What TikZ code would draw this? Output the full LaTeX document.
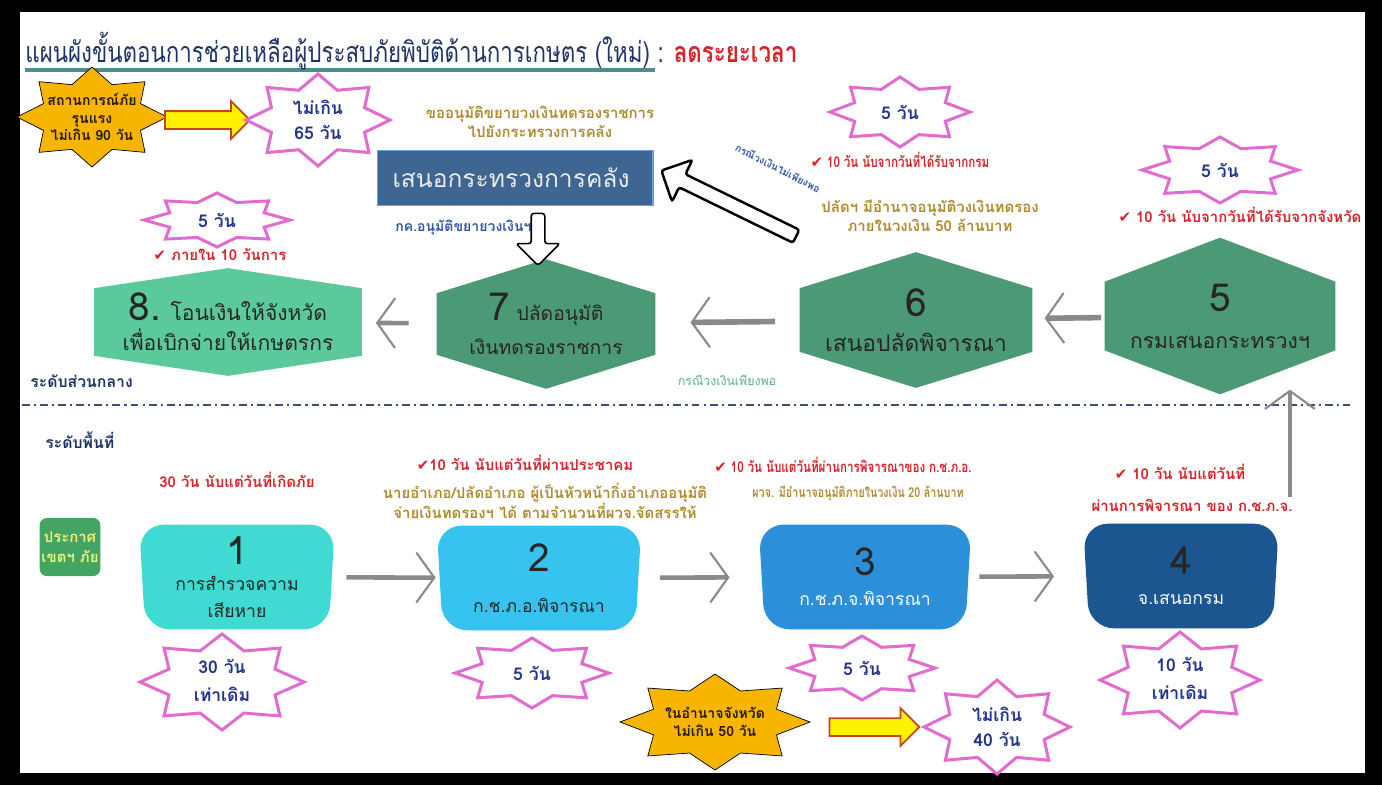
\documentclass[tikz,border=0pt]{standalone}
\usepackage{fontspec}
\setmainfont{Loma}[Script=Thai]
\newfontfamily\narrowthai{Loma}[Script=Thai, FakeStretch=0.78]
\newfontfamily\symfont{DejaVu Sans}
\usetikzlibrary{shapes.arrows,arrows.meta,positioning,calc,backgrounds}

\definecolor{navy}{HTML}{1F3466}
\definecolor{titlered}{HTML}{D8232A}
\definecolor{gold}{HTML}{B08A2E}
\definecolor{starpink}{HTML}{E26BD0}
\definecolor{starblue}{HTML}{23348C}
\definecolor{sunorange}{HTML}{F7B500}
\definecolor{hexlight}{HTML}{5CC99B}
\definecolor{hexdark}{HTML}{4C9A75}
\definecolor{boxA}{HTML}{3FDAD2}
\definecolor{boxB}{HTML}{36C3EF}
\definecolor{boxC}{HTML}{2C8FD9}
\definecolor{boxD}{HTML}{1B5691}
\definecolor{mof}{HTML}{3F6592}
\definecolor{mofedge}{HTML}{6A9FD8}
\definecolor{flowgray}{HTML}{8A8A8A}
\definecolor{noteblue}{HTML}{3257A3}
\definecolor{notegreen}{HTML}{5AAE8C}
\definecolor{linenavy}{HTML}{3C5080}
\definecolor{underteal}{HTML}{4E8C8E}
\definecolor{arrowedge}{HTML}{C0471E}
\definecolor{declgreen}{HTML}{44A463}
\definecolor{declyellow}{HTML}{EEF27A}

\newcommand{\tick}{{\symfont ✔}}
\newcommand{\bignum}{\fontsize{22}{22}\selectfont}

% 8-point burst, stretched: style, cx, cy, rx, ry
\newcommand{\burst}[5]{%
  \draw[#1] plot[samples at={0,...,15}]
    ({#2+#4*(1-0.3*mod(\x,2))*cos(\x*22.5)},{#3+#5*(1-0.3*mod(\x,2))*sin(\x*22.5)}) -- cycle;}
% hexagon behind a node: node, peak, colour
\newcommand{\hexfill}[3]{%
  \begin{scope}[on background layer]
    \fill[#3] (#1.north west) -- ([yshift=#2]#1.north) -- (#1.north east)
      -- (#1.south east) -- ([yshift=-#2]#1.south) -- (#1.south west) -- cycle;
  \end{scope}}
% rounded trapezoid behind a node: node, colour
\newcommand{\stepfill}[2]{%
  \begin{scope}[on background layer]
    \fill[#2, rounded corners=0.5cm] ([xshift=-0.12cm]#1.north west) -- ([xshift=0.12cm]#1.north east)
      -- (#1.south east) -- (#1.south west) -- cycle;
  \end{scope}}

\tikzset{
  note/.style       = {font=\bfseries\fontsize{8.5}{11}\selectfont, align=center, inner sep=0pt},
  narrow/.style     = {font=\narrowthai\bfseries\fontsize{#1}{11}\selectfont},
  rednote/.style    = {note, text=titlered},
  goldnote/.style   = {note, text=gold},
  daytext/.style    = {font=\bfseries\fontsize{10}{14}\selectfont, text=starblue, align=center, inner sep=0pt},
  suntext/.style    = {font=\bfseries\fontsize{8}{10}\selectfont, text=black!80!brown, align=center, inner sep=0pt},
  pinkstar/.style   = {draw=starpink, line width=1.7pt, fill=white},
  sunstar/.style    = {fill=sunorange},
  yellowarrow/.style= {single arrow, draw=arrowedge, fill=yellow, line width=1pt,
                       inner sep=0.16cm, single arrow head extend=0.2cm},
  hollowarrow/.style= {single arrow, draw=black, fill=white,
                       inner sep=0.12cm, rounded corners=1.5pt},
  hexnode/.style    = {inner sep=0pt, align=center, text=black!85,
                       font=\fontsize{#1}{17}\selectfont},
  stepnode/.style   = {inner sep=0pt, align=center, text=black!85,
                       font=\fontsize{10}{15}\selectfont, minimum height=2.08cm},
  flow/.style       = {draw=flowgray, line width=2.6pt,
                       -{Straight Barb[length=0.36cm, width=1.0cm, line width=1.2pt]}},
  level/.style      = {font=\bfseries\fontsize{9}{11}\selectfont, text=navy, anchor=west, inner sep=0pt}
}

\begin{document}
\begin{tikzpicture}[x=0.02cm, y=-0.02cm]
\useasboundingbox (0,0) rectangle (1382,785);
\begin{scope}[on background layer]
  \fill[black] (0,0) rectangle (1382,785);
  \fill[white] (20,12) rectangle (1365,773);
\end{scope}

% title
\draw[underteal, line width=2.2pt] (25,70) -- (655,70);
\node[anchor=base west, inner sep=0pt, font=\narrowthai\fontsize{16.3}{20}\selectfont] (title) at (25,62)
  {\textcolor{navy}{แผนผังขั้นตอนการช่วยเหลือผู้ประสบภัยพิบัติด้านการเกษตร (ใหม่) :} \textcolor{titlered}{\bfseries ลดระยะเวลา}};

% central level
\burst{sunstar}{92}{117}{75}{50}
\node[suntext] (severe) at (92,117) {สถานการณ์ภัย\\รุนแรง\\ไม่เกิน 90 วัน};
\node[yellowarrow, minimum height=1.7cm] (ya) at (203,120) {};
\burst{pinkstar}{318}{120}{72}{46}
\node[daytext] (d65) at (318,120) {ไม่เกิน\\65 วัน};

\node[goldnote] (askmof) at (540,122) {ขออนุมัติขยายวงเงินทดรองราชการ\\ไปยังกระทรวงการคลัง};
\node[fill=mof, draw=mofedge, line width=0.6pt, minimum width=5.52cm, minimum height=1.1cm,
      text width=4.9cm, align=left, text=black!8, font=\fontsize{14}{16}\selectfont] (mof) at (515,178) {เสนอกระทรวงการคลัง};
\node[note, text=noteblue, anchor=west, font=\bfseries\fontsize{8}{10}\selectfont] (mofok) at (395,228) {กค.อนุมัติขยายวงเงินฯ};
\node[hollowarrow, rotate=-90, minimum height=1.04cm, line width=0.9pt, single arrow head extend=0.3cm] (down) at (538,236) {};
\node[hollowarrow, rotate=154, minimum height=3cm, line width=1.4pt, single arrow head extend=0.32cm] (back) at (732,205) {};
\node[note, text=noteblue, rotate=-27, font=\bfseries\fontsize{5.8}{7}\selectfont] (short) at (778,168) {กรณีวงเงินไม่เพียงพอ};

\burst{pinkstar}{900}{112}{70}{35}
\node[daytext] (d6) at (900,112) {5 วัน};
\node[rednote, narrow=8.5] (r6) at (900,160) {\tick\ 10 วัน นับจากวันที่ได้รับจากกรม};
\node[goldnote] (g6) at (930,216) {ปลัดฯ มีอำนาจอนุมัติวงเงินทดรอง\\ภายในวงเงิน 50 ล้านบาท};

\burst{pinkstar}{1220}{170}{78}{33}
\node[daytext] (d5) at (1220,170) {5 วัน};
\node[rednote] (r5) at (1240,215) {\tick\ 10 วัน นับจากวันที่ได้รับจากจังหวัด};

\burst{pinkstar}{217}{220}{73}{27}
\node[daytext] (d8) at (217,220) {5 วัน};
\node[rednote] (r8) at (220,255) {\tick\ ภายใน 10 วันการ};

\node[hexnode=12, minimum width=5.34cm, minimum height=1.34cm] (h8) at (228,322)
  {{\bignum 8.} โอนเงินให้จังหวัด\\เพื่อเบิกจ่ายให้เกษตรกร};
\hexfill{h8}{0.4cm}{hexlight}
\node[hexnode=11, minimum width=4.36cm, minimum height=1.14cm] (h7) at (546,324)
  {{\bignum 7} ปลัดอนุมัติ\\[2pt]เงินทดรองราชการ};
\hexfill{h7}{0.68cm}{hexdark}
\node[hexnode=13, minimum width=4.64cm, minimum height=1.2cm] (h6) at (916,320)
  {{\bignum 6}\\[3pt]เสนอปลัดพิจารณา};
\hexfill{h6}{0.72cm}{hexdark}
\node[hexnode=12, minimum width=4.6cm, minimum height=1.36cm] (h5) at (1220,316)
  {{\bignum 5}\\[4pt]กรมเสนอกระทรวงฯ};
\hexfill{h5}{0.88cm}{hexdark}

\draw[flow, shorten <=16pt, shorten >=8pt] (h7) -- (h8);
\draw[flow, line width=3.2pt, shorten <=14pt, shorten >=20pt] (h6) -- (h7);
\draw[flow, line width=3.2pt, shorten <=2pt, shorten >=7pt] (h5) -- (h6);
\node[note, text=notegreen, font=\fontsize{7}{9}\selectfont] (enough) at (727,380) {กรณีวงเงินเพียงพอ};

% level divider
\node[level] (central) at (30,381) {ระดับส่วนกลาง};
\draw[linenavy, line width=1.5pt, dash pattern=on 4.5pt off 2.3pt on 1.2pt off 2.3pt] (22,405) -- (1350,405);
\node[level] (local) at (45,440) {ระดับพื้นที่};

% local level
\node[fill=declgreen, rounded corners=4pt, minimum width=1.1cm, minimum height=1.16cm, inner sep=1pt,
      text=declyellow, align=center, font=\bfseries\fontsize{8.5}{11}\selectfont] (declare) at (70,547) {ประกาศ\\เขตฯ ภัย};

\node[rednote] (r1) at (237,480) {30 วัน นับแต่วันที่เกิดภัย};
\node[rednote] (r2) at (525,463) {\tick10 วัน นับแต่วันที่ผ่านประชาคม};
\node[goldnote] (g2) at (545,501) {นายอำเภอ/ปลัดอำเภอ ผู้เป็นหัวหน้ากิ่งอำเภออนุมัติ\\จ่ายเงินทดรองฯ ได้ ตามจำนวนที่ผวจ.จัดสรรให้};
\node[rednote, narrow=8.5] (r3) at (843,465) {\tick\ 10 วัน นับแต่วันที่ผ่านการพิจารณาของ ก.ช.ภ.อ.};
\node[goldnote, narrow=7.8] (g3) at (858,493) {ผวจ. มีอำนาจอนุมัติภายในวงเงิน 20 ล้านบาท};
\node[rednote] (r4) at (1180,472) {\tick\ 10 วัน นับแต่วันที่};
\node[rednote] (r4b) at (1192,505) {ผ่านการพิจารณา ของ ก.ช.ภ.จ.};

\node[stepnode, minimum width=3.66cm] (b1) at (237,577) {{\bignum 1}\\การสำรวจความ\\เสียหาย};
\stepfill{b1}{boxA}
\node[stepnode, minimum width=3.84cm] (b2) at (539,578) {{\bignum 2}\\[8pt]ก.ช.ภ.อ.พิจารณา};
\stepfill{b2}{boxB}
\node[stepnode, minimum width=4.0cm] (b3) at (865,577) {{\bignum 3}\\[2pt]\textcolor{white}{ก.ช.ภ.จ.พิจารณา}};
\stepfill{b3}{boxC}
\node[stepnode, minimum width=3.66cm] (b4) at (1181,576) {{\bignum 4}\\[2pt]\textcolor{white}{จ.เสนอกรม}};
\stepfill{b4}{boxD}

\draw[flow, shorten <=10pt, shorten >=4pt] (b1) -- (b2);
\draw[flow, shorten <=14pt, shorten >=20pt] (b2) -- (b3);
\draw[flow, shorten <=8pt, shorten >=20pt] (b3) -- (b4);
\draw[flow] ($(b4.north east)+(17,-27)$) -- ++(0,-107);

\burst{pinkstar}{222}{682}{82}{48}
\node[daytext] (d1) at (222,680) {30 วัน\\[2pt]เท่าเดิม};
\burst{pinkstar}{532}{673}{77}{35}
\node[daytext] (d2) at (532,673) {5 วัน};
\burst{pinkstar}{862}{668}{73}{32}
\node[daytext] (d3) at (862,668) {5 วัน};
\burst{pinkstar}{1180}{680}{80}{48}
\node[daytext] (d4) at (1180,678) {10 วัน\\[2pt]เท่าเดิม};

\burst{sunstar}{715}{722}{95}{48}
\node[suntext] (prov) at (715,722) {ในอำนาจจังหวัด\\ไม่เกิน 50 วัน};
\node[yellowarrow, minimum height=1.8cm] (yb) at (870,727) {};
\burst{pinkstar}{997}{727}{73}{47}
\node[daytext] (d40) at (997,727) {ไม่เกิน\\40 วัน};
\end{tikzpicture}
\end{document}
